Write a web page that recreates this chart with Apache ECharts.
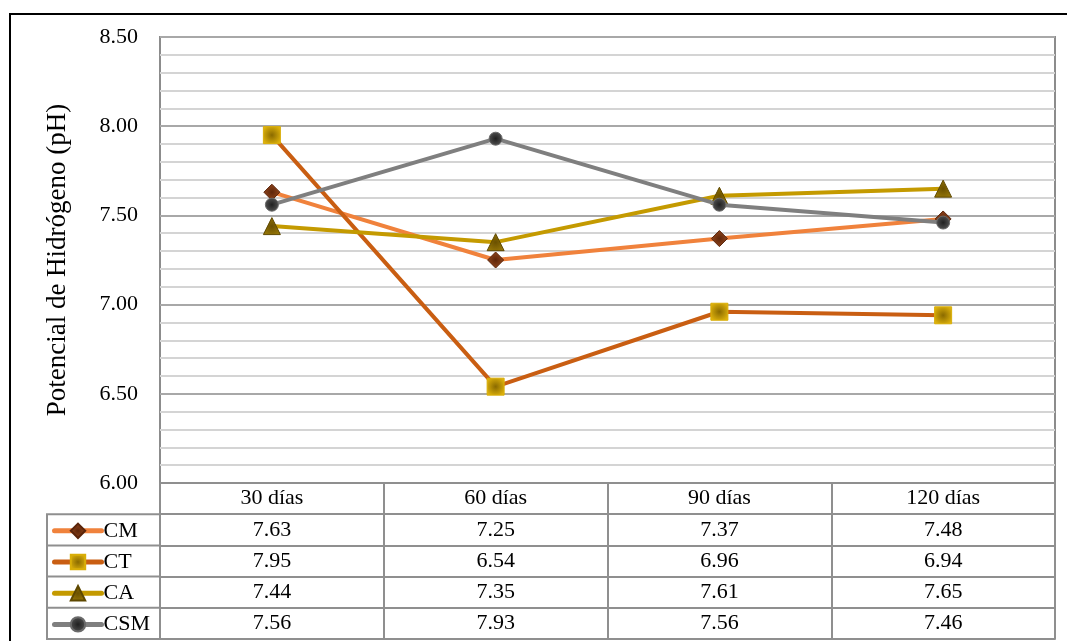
<!DOCTYPE html>
<html>
<head>
<meta charset="utf-8">
<script src="https://cdn.jsdelivr.net/npm/echarts@6/dist/echarts.min.js"></script>
<style>
html,body{margin:0;padding:0;background:#fff;}
#chart{width:1067px;height:641px;}
</style>
</head>
<body>
<div id="chart"></div>
<script>
// ---- data ----
var categories = ['30 días', '60 días', '90 días', '120 días'];
var seriesNames = ['CM', 'CT', 'CA', 'CSM'];
var valuesCM  = [7.63, 7.25, 7.37, 7.48];
var valuesCT  = [7.95, 6.54, 6.96, 6.94];
var valuesCA  = [7.44, 7.35, 7.61, 7.65];
var valuesCSM = [7.56, 7.93, 7.56, 7.46];
var yTicks = [6.00, 6.50, 7.00, 7.50, 8.00, 8.50];
var yTitle = 'Potencial de Hidrógeno (pH)';

// ---- styling / layout ----
var FONT = "'Liberation Serif','Times New Roman',serif";
var W = 1067, H = 641;
var gridLeft = 160, gridRight = 12, gridTop = 37, gridBottom = 158;
var rowH = 31.2;
var tableLine = '#8f8f8f';
var plotBottom = H - gridBottom;
var FS = 22;

function radial(inner, outer) {
  return {type: 'radial', x: 0.5, y: 0.5, r: 0.6,
          colorStops: [{offset: 0, color: inner}, {offset: 1, color: outer}]};
}

var allValues = [valuesCM, valuesCT, valuesCA, valuesCSM];
var styles = [
  {line: '#F0823C', symbol: 'diamond',  size: 16, fill: radial('#5e260a', '#9a4a1e'), border: '#5a240a'},
  {line: '#C95E12', symbol: 'rect',     size: 17, fill: radial('#8a6a00', '#E3B60C'), border: '#D9AE08'},
  {line: '#C49A00', symbol: 'triangle', size: 17, fill: radial('#6a5000', '#9a7a08'), border: '#5e4800'},
  {line: '#7F7F7F', symbol: 'circle',   size: 13, fill: radial('#202020', '#5a5a5a'), border: '#6a6a6a'}
];

var series = seriesNames.map(function (name, i) {
  return {
    name: name,
    type: 'line',
    data: allValues[i],
    symbol: styles[i].symbol,
    symbolSize: styles[i].size,
    lineStyle: {color: styles[i].line, width: 4},
    itemStyle: {color: styles[i].fill, borderColor: styles[i].border, borderWidth: 1},
    emphasis: {disabled: true},
    z: 3 + i
  };
});

// x axes: header row (categories) + one axis per table row
var xAxes = [{
  type: 'category',
  data: categories,
  boundaryGap: true,
  position: 'bottom',
  axisLine: {show: true, lineStyle: {color: tableLine, width: 2}},
  axisTick: {show: true, interval: 0, length: rowH, lineStyle: {color: tableLine, width: 2}},
  axisLabel: {interval: 0, margin: 0, lineHeight: rowH, verticalAlign: 'top',
              fontFamily: FONT, fontSize: FS, color: '#000'}
}];
allValues.forEach(function (vals, i) {
  xAxes.push({
    type: 'category',
    data: categories,
    boundaryGap: true,
    position: 'bottom',
    offset: rowH * (i + 1),
    axisLine: {show: true, lineStyle: {color: tableLine, width: 2}},
    axisTick: {show: true, interval: 0, length: rowH, lineStyle: {color: tableLine, width: 2}},
    axisLabel: {interval: 0, margin: 0, lineHeight: rowH, verticalAlign: 'top',
                fontFamily: FONT, fontSize: FS, color: '#000',
                formatter: (function (v) { return function (val, idx) { return v[idx].toFixed(2); }; })(vals)}
  });
});
xAxes.push({
  type: 'category',
  data: categories,
  boundaryGap: true,
  position: 'bottom',
  offset: rowH * 5,
  axisLine: {show: true, lineStyle: {color: tableLine, width: 2}},
  axisTick: {show: false},
  axisLabel: {show: false}
});

// legends, one per table row
var legends = seriesNames.map(function (name, i) {
  var center = plotBottom + rowH * (i + 1) + rowH / 2;
  return {
    data: [name],
    orient: 'horizontal',
    left: 52,
    top: center - 10,
    padding: 0,
    itemWidth: 47,
    itemHeight: 18,
    itemGap: 4,
    selectedMode: false,
    lineStyle: {width: 5, cap: 'round'},
    textStyle: {fontFamily: FONT, fontSize: FS, color: '#000', lineHeight: 20, padding: [0, 0, 0, -3]}
  };
});

// outer frame and legend column borders
var graphics = [{
  type: 'rect',
  shape: {x: 10, y: 14, width: 1200, height: 800},
  style: {fill: null, stroke: '#000', lineWidth: 2},
  z: 0
}, {
  type: 'line',
  shape: {x1: 47, y1: plotBottom + rowH, x2: 47, y2: plotBottom + rowH * 5},
  style: {stroke: tableLine, lineWidth: 2},
  z: 1
}];
for (var k = 1; k <= 5; k++) {
  graphics.push({
    type: 'line',
    shape: {x1: 46, y1: plotBottom + rowH * k, x2: gridLeft, y2: plotBottom + rowH * k},
    style: {stroke: tableLine, lineWidth: 2},
    z: 1
  });
}

var chart = echarts.init(document.getElementById('chart'), null, {renderer: 'canvas'});
chart.setOption({
  backgroundColor: '#fff',
  animation: false,
  textStyle: {fontFamily: FONT},
  grid: {
    left: gridLeft, right: gridRight, top: gridTop, bottom: gridBottom,
    show: true, borderColor: '#8c8c8c', borderWidth: 2, backgroundColor: '#fff',
    containLabel: false
  },
  legend: legends,
  xAxis: xAxes,
  yAxis: {
    type: 'value',
    min: yTicks[0],
    max: yTicks[yTicks.length - 1],
    interval: yTicks[1] - yTicks[0],
    name: yTitle,
    nameLocation: 'middle',
    nameGap: 89,
    nameRotate: 90,
    nameTextStyle: {fontFamily: FONT, fontSize: 27, color: '#000'},
    axisLine: {show: false},
    axisTick: {show: false},
    axisLabel: {margin: 22, fontFamily: FONT, fontSize: FS, color: '#000',
                formatter: function (v) { return v.toFixed(2); }},
    splitLine: {show: true, lineStyle: {color: '#a8a8a8', width: 2}},
    minorTick: {show: false, splitNumber: 5},
    minorSplitLine: {show: true, lineStyle: {color: '#d4d4d4', width: 2}}
  },
  graphic: graphics,
  series: series
});
</script>
</body>
</html>
